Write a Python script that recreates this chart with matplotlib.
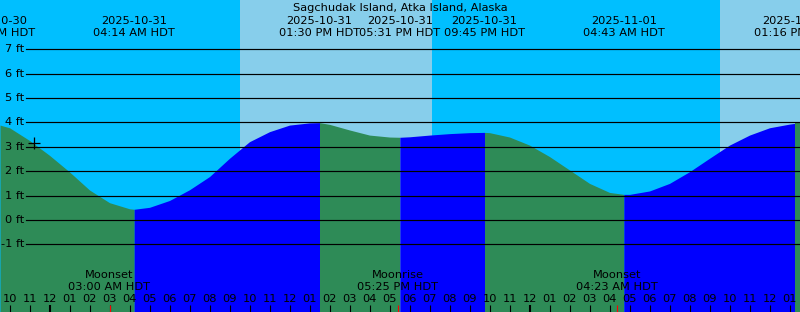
import numpy as np
import matplotlib.pyplot as plt

# Tide graph for Sagchudak Island, time axis = hours since 2025-10-31 00:00 HDT

W, H = 800, 312

hours = [-2.475, -2, -1, 0, 1, 2, 3, 4, 4.233, 5, 6, 7, 8, 9, 10, 11, 12, 13, 13.5,
         14, 15, 16, 17, 17.517, 18, 19, 20, 21, 21.75, 22, 23, 24, 25, 26, 27, 28,
         28.717, 29, 30, 31, 32, 33, 34, 35, 36, 37, 37.267, 37.525]
heights = [3.89, 3.78, 3.26, 2.65, 1.97, 1.23, 0.71, 0.46, 0.44, 0.52, 0.80, 1.24,
           1.78, 2.53, 3.21, 3.62, 3.89, 3.98, 3.99, 3.92, 3.69, 3.48, 3.40, 3.39,
           3.41, 3.48, 3.54, 3.58, 3.59, 3.58, 3.40, 3.07, 2.60, 2.05, 1.50, 1.13,
           1.05, 1.05, 1.19, 1.50, 1.98, 2.53, 3.07, 3.48, 3.78, 3.93, 3.96, 3.96]

tide_hours = [-2.75, 4.233, 13.5, 17.517, 21.75, 28.717, 37.267]
tide_dates = ['2025-10-30', '2025-10-31', '2025-10-31', '2025-10-31', '2025-10-31',
              '2025-11-01', '2025-11-01']
tide_times = ['09:15 PM HDT', '04:14 AM HDT', '01:30 PM HDT', '05:31 PM HDT',
              '09:45 PM HDT', '04:43 AM HDT', '01:16 PM HDT']

moon_hours = [3.0, 17.417, 28.383]
moon_events = ['Moonset', 'Moonrise', 'Moonset']
moon_times = ['03:00 AM HDT', '05:25 PM HDT', '04:23 AM HDT']

daylight = [(9.525, 19.125), (33.525, 40.0)]

now_hour, now_height = -0.775, 3.17
ft_levels = [-1, 0, 1, 2, 3, 4, 5, 6, 7]
t_start, t_end = -2.475, 37.525
y_bottom, y_top = -3.77, 9.016

night_col = '#00BFFF'
day_col = '#87CEEB'
fall_col = '#2E8B57'
rise_col = '#0000FF'

plt.rcParams['font.family'] = 'DejaVu Sans'
fs = 8.2

fig = plt.figure(figsize=(W / 100, H / 100), dpi=100)
ax = fig.add_axes([0, 0, 1, 1])
ax.set_xlim(t_start, t_end)
ax.set_ylim(y_bottom, y_top)
ax.set_facecolor(night_col)
for s in ax.spines.values():
    s.set_visible(False)
ax.set_xticks([])
ax.set_yticks([])

for a, b in daylight:
    ax.axvspan(a, b, color=day_col, lw=0, zorder=0)

# water fill: green while falling, blue while rising
hrs = np.array(hours)
hts = np.array(heights)
breaks = [t_start] + [t for t in tide_hours if t_start < t < t_end] + [t_end]
for a, b in zip(breaks[:-1], breaks[1:]):
    m = (hrs >= a - 1e-6) & (hrs <= b + 1e-6)
    seg_h = hts[m]
    col = rise_col if seg_h[-1] > seg_h[0] else fall_col
    ax.fill_between(hrs[m], seg_h, y_bottom - 1, color=col, lw=0, zorder=1)

# foot lines and labels
for lv in ft_levels:
    ax.axhline(lv, xmin=26 / W, color='black', lw=0.85, zorder=2)
    ax.text(24 / W, lv, f'{lv} ft', transform=ax.get_yaxis_transform(),
            ha='right', va='center', fontsize=fs, zorder=3)

ax.plot(now_hour, now_height, marker='+', ms=8, mew=0.9, color='black', zorder=4)

xt = ax.get_xaxis_transform()


def fy(ypix):
    return 1 - ypix / H


ax.text(0.5, fy(11), 'Sagchudak Island, Atka Island, Alaska', transform=ax.transAxes,
        ha='center', va='baseline', fontsize=fs, zorder=3)
for t, d, s in zip(tide_hours, tide_dates, tide_times):
    ax.text(t, fy(24.3), d, transform=xt, ha='center', va='baseline', fontsize=fs, zorder=3)
    ax.text(t, fy(36), s, transform=xt, ha='center', va='baseline', fontsize=fs, zorder=3)

for t, e, s in zip(moon_hours, moon_events, moon_times):
    ax.text(t, fy(278.3), e, transform=xt, ha='center', va='baseline', fontsize=fs, zorder=3)
    ax.text(t, fy(290), s, transform=xt, ha='center', va='baseline', fontsize=fs, zorder=3)

# hour ticks along the bottom
tick_hours = np.arange(np.ceil(t_start), t_end)
for h in tick_hours:
    hh = int(h) % 12
    lab = f'{hh if hh else 12:02d}'
    ax.text(h, fy(302.3), lab, transform=xt, ha='center', va='baseline', fontsize=fs, zorder=3)
    midnight = int(h) % 24 == 0
    ax.vlines(h, 0, 7 / H, transform=xt, color='black', lw=1.5 if midnight else 0.8, zorder=3)
ax.vlines(moon_hours, 0, 7 / H, transform=xt, color='red', lw=0.8, zorder=3)

fig.savefig('out.png', dpi=100)
